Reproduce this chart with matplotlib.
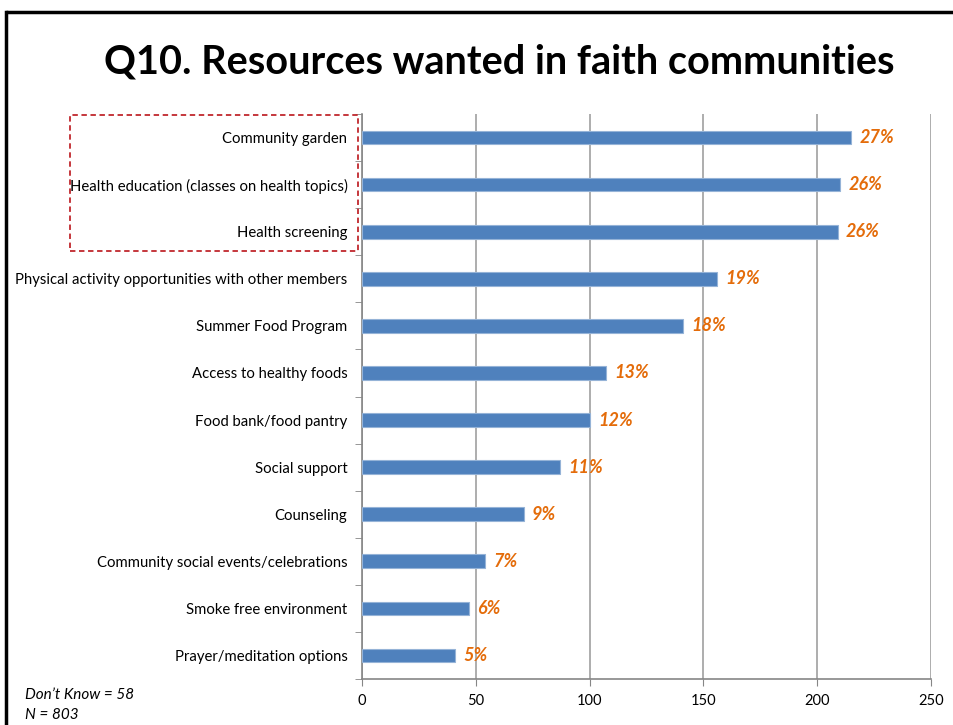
import matplotlib.pyplot as plt
import matplotlib.patches as patches
import numpy as np

categories = [
    "Community garden",
    "Health education (classes on health topics)",
    "Health screening",
    "Physical activity opportunities with other members",
    "Summer Food Program",
    "Access to healthy foods",
    "Food bank/food pantry",
    "Social support",
    "Counseling",
    "Community social events/celebrations",
    "Smoke free environment",
    "Prayer/meditation options",
]
counts = [215, 210, 209, 156, 141, 107, 100, 87, 71, 54, 47, 41]
pct_labels = ["27%", "26%", "26%", "19%", "18%", "13%", "12%", "11%", "9%", "7%", "6%", "5%"]
x_ticks = [0, 50, 100, 150, 200, 250]

plt.rcParams['font.family'] = ['Lato', 'DejaVu Sans']

fig = plt.figure(figsize=(9.54, 7.25), dpi=100)
ax = fig.add_axes([0.3795, 0.0634, 0.5964, 0.7794])

y = np.arange(len(categories))
ax.barh(y, counts, height=0.29, color='#4F81BD', edgecolor='#95B3D7', linewidth=0.8, zorder=3)

for yi, c, lab in zip(y, counts, pct_labels):
    ax.annotate(lab, (c, yi), xytext=(6, 0), textcoords='offset points',
                ha='left', va='center', color='#E46C0A', fontsize=13,
                fontweight='bold', fontstyle='italic', zorder=4)

ax.set_ylim(len(categories) - 0.5, -0.5)
ax.set_xlim(0, 250)
ax.set_xticks(x_ticks)
ax.tick_params(axis='x', labelsize=10.5, length=5, color='#868686', pad=6)
ax.set_yticks(y)
ax.set_yticklabels(categories, fontsize=10.7)
ax.tick_params(axis='y', which='major', length=0, pad=10.5)
ax.set_yticks(np.arange(-0.5, len(categories), 1), minor=True)
ax.tick_params(axis='y', which='minor', length=5, color='#868686')

ax.grid(axis='x', color='#A0A0A0', linewidth=1.2, zorder=0)
for side in ('top', 'right'):
    ax.spines[side].set_visible(False)
for side in ('left', 'bottom'):
    ax.spines[side].set_color('#868686')
    ax.spines[side].set_linewidth(1.2)

fig.text(499 / 954, 1 - 62 / 725, "Q10. Resources wanted in faith communities",
         ha='center', va='center', fontsize=28.5, fontweight='bold')

# dashed box around the top three items
fig.patches.append(patches.Rectangle((70 / 954, 1 - 251 / 725), 288 / 954, 136 / 725,
                                     transform=fig.transFigure, fill=False,
                                     edgecolor='#C0282D', linestyle=(0, (3, 2)),
                                     linewidth=1.3))

# slide frame (left and top edges)
fig.add_artist(plt.Line2D([6 / 954, 6 / 954], [0, 1 - 12 / 725], color='black', linewidth=2.5,
                          transform=fig.transFigure))
fig.add_artist(plt.Line2D([6 / 954, 1], [1 - 12 / 725, 1 - 12 / 725], color='black',
                          linewidth=2.5, solid_capstyle='butt', transform=fig.transFigure))

fig.text(25 / 954, 1 - 695 / 725, "Don\u2019t Know = 58", fontsize=11,
         fontstyle='italic', va='center')
fig.text(25 / 954, 1 - 715 / 725, "N = 803", fontsize=11,
         fontstyle='italic', va='center')

fig.savefig("out.png", dpi=100)
